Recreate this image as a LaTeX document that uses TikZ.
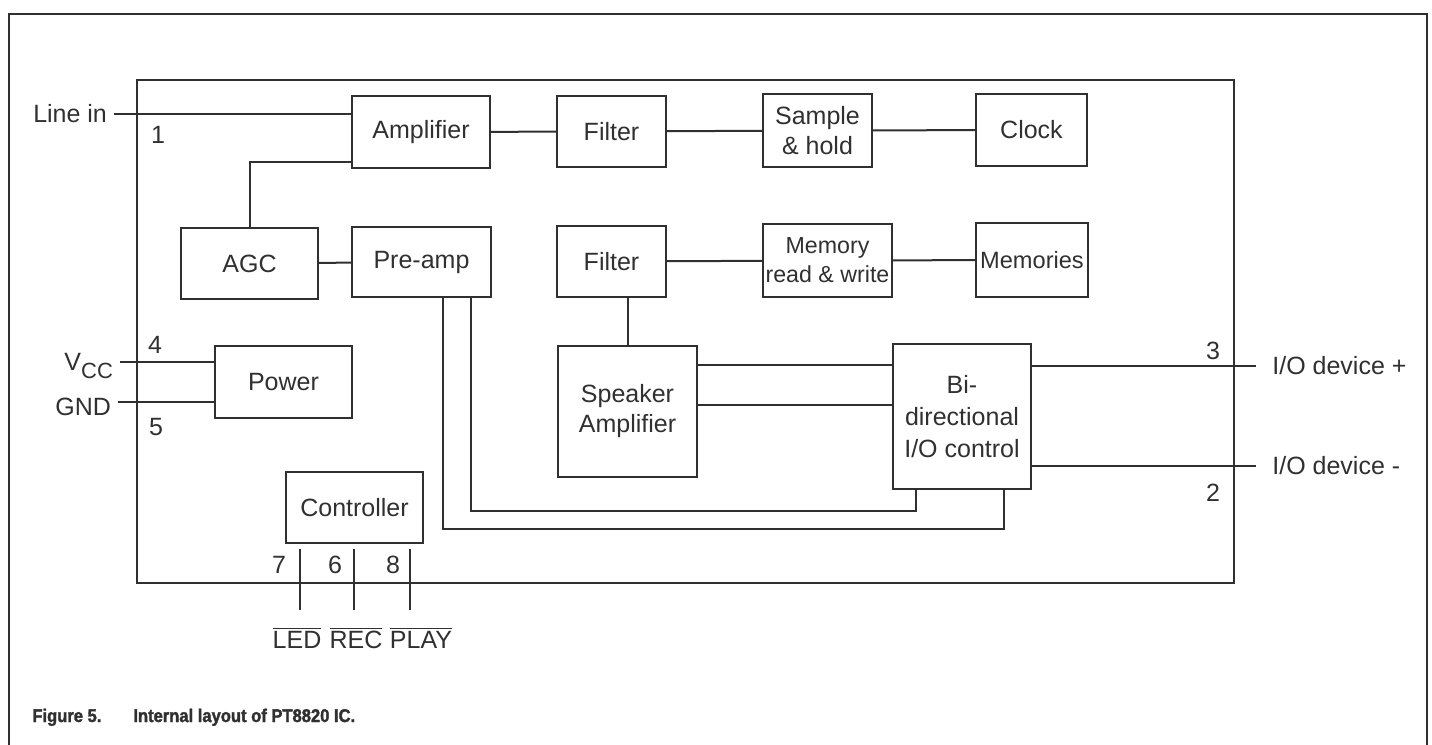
\documentclass[tikz,border=0pt]{standalone}
\usepackage{fontspec}
\setmainfont{Liberation Sans}
\usetikzlibrary{calc}
\definecolor{ink}{HTML}{303030}

\tikzset{
  blk/.style 2 args={draw=ink, line width=1.1pt, inner sep=0pt, align=center,
    text=ink, minimum width=#1, minimum height=#2},
  wire/.style={draw=ink, line width=1pt},
  pinno/.style={text=ink, inner sep=0pt},
  caption/.style={anchor=base west, inner sep=0pt, text=ink,
    font=\fontsize{9.2}{11}\bfseries\addfontfeature{FakeBold=1.8,FakeStretch=0.9}},
}
\newcommand{\pinbar}[1]{$\overline{\mbox{#1}}$}

\begin{document}
\begin{tikzpicture}[x=0.5pt, y=-0.5pt, font=\fontsize{12.5}{15}\selectfont]
\useasboundingbox (0,0) rectangle (1432,745);

% Figure frame and chip outline
\draw[ink, line width=1pt] (9,745) -- (9,14) -- (1427,14) -- (1427,745);
\draw[ink, line width=1.1pt] (137,80) rectangle (1234,583);

% Top row
\node[blk={69pt}{36pt}] (amp) at (421,132) {Amplifier};
\node[blk={54.5pt}{35.5pt}] (filta) at (611.5,131.5) {Filter};
\node[blk={54.5pt}{36.5pt}] (samphold) at (817.5,130.5) {Sample\\\& hold};
\node[blk={55.5pt}{36pt}] (clock) at (1031.5,130) {Clock};

% Second row
\node[blk={68.5pt}{35.5pt}] (agc) at (249.5,263.5) {AGC};
\node[blk={69.5pt}{35pt}] (preamp) at (421.5,262) {Pre-amp};
\node[blk={54.5pt}{35.5pt}] (filtb) at (611.5,261.5) {Filter};
\node[blk={64.5pt}{36.5pt}, font=\fontsize{11.6}{14.5}\selectfont] (memrw) at (827.5,260.5) {Memory\\read \& write};
\node[blk={56pt}{37pt}, font=\fontsize{11.8}{14}\selectfont] (memories) at (1032,260) {Memories};

% Lower blocks
\node[blk={68.5pt}{36pt}] (power) at (283.5,382) {Power};
\node[blk={69.5pt}{65.5pt}] (spkamp) at (627.5,411.5) {Speaker\\Amplifier};
\node[blk={69pt}{72.5pt}, font=\fontsize{12.5}{16}\selectfont] (bidir) at (962,416.5) {Bi-\\directional\\I/O control};
\node[blk={68.5pt}{35.5pt}] (ctrl) at (354.5,507.5) {Controller};

% Pin ends
\coordinate (linepin) at (114,114);
\coordinate (vccpin) at (120,362);
\coordinate (gndpin) at (118,402);
\coordinate (iopluspin) at (1256,366);
\coordinate (iominuspin) at (1256,466);
\coordinate (p7) at (300,610);
\coordinate (p6) at (354,610);
\coordinate (p8) at (410,610);

% External labels
\node[anchor=east, text=ink] (linein) at (linepin) {Line in};
\node[anchor=east, text=ink] (vcc) at ([yshift=-2pt]vccpin) {V\raisebox{-0.55ex}{\fontsize{11}{12}\selectfont CC}};
\node[anchor=east, text=ink] (gnd) at ([yshift=-2.5pt]gndpin) {GND};
\node[anchor=west, text=ink, inner xsep=8pt] (ioplus) at (iopluspin) {I/O device +};
\node[anchor=west, text=ink, inner xsep=8pt] (iominus) at (iominuspin) {I/O device -};
\node[text=ink] (led) at (297,638) {\pinbar{LED}};
\node[text=ink] (rec) at (356,638) {\pinbar{REC}};
\node[text=ink] (play) at (421,638) {\pinbar{PLAY}};

% Pin numbers
\node[pinno] (n1) at (158,135) {1};
\node[pinno] (n4) at (155,345) {4};
\node[pinno] (n5) at (156,427) {5};
\node[pinno] (n3) at (1213,351) {3};
\node[pinno] (n2) at (1213,493) {2};
\node[pinno] (n7) at (279,565) {7};
\node[pinno] (n6) at (335,565) {6};
\node[pinno] (n8) at (393,565) {8};

% Signal path
\draw[wire] (linepin) -- (linepin -| amp.west);
\draw[wire] ([yshift=3.5pt]amp.south west) -| (agc.north);
\draw[wire] (amp) -- (filta);
\draw[wire] (filta) -- (samphold);
\draw[wire] (samphold) -- (clock);
\draw[wire] (agc) -- (preamp);
\draw[wire] (filtb) -- (memrw);
\draw[wire] (memrw) -- (memories);
\draw[wire] (spkamp.north) -- (spkamp.north |- filtb.south);
\draw[wire] ([yshift=-10pt]spkamp.north east) -- ([yshift=-10pt]spkamp.north east -| bidir.west);
\draw[wire] ([yshift=-30pt]spkamp.north east) -- ([yshift=-30pt]spkamp.north east -| bidir.west);
\draw[wire] ([xshift=24.75pt]preamp.south) -- ++(0,213) -| ([xshift=-23pt]bidir.south);
\draw[wire] ([xshift=10.75pt]preamp.south) -- ++(0,231) -| ([xshift=21pt]bidir.south);
\draw[wire] (iopluspin -| bidir.east) -- (iopluspin);
\draw[wire] (iominuspin -| bidir.east) -- (iominuspin);

% Supply and control pins
\draw[wire] (vccpin) -- (vccpin -| power.west);
\draw[wire] (gndpin) -- (gndpin -| power.west);
\draw[wire] ([yshift=-2.5pt]ctrl.south -| p7) -- (p7);
\draw[wire] ([yshift=-2.5pt]ctrl.south -| p6) -- (p6);
\draw[wire] ([yshift=-2.5pt]ctrl.south -| p8) -- (p8);

% Caption
\node[caption] (figno) at (32,722) {Figure 5.};
\node[caption] (figtext) at (133,722) {Internal layout of PT8820 IC.};
\end{tikzpicture}
\end{document}
